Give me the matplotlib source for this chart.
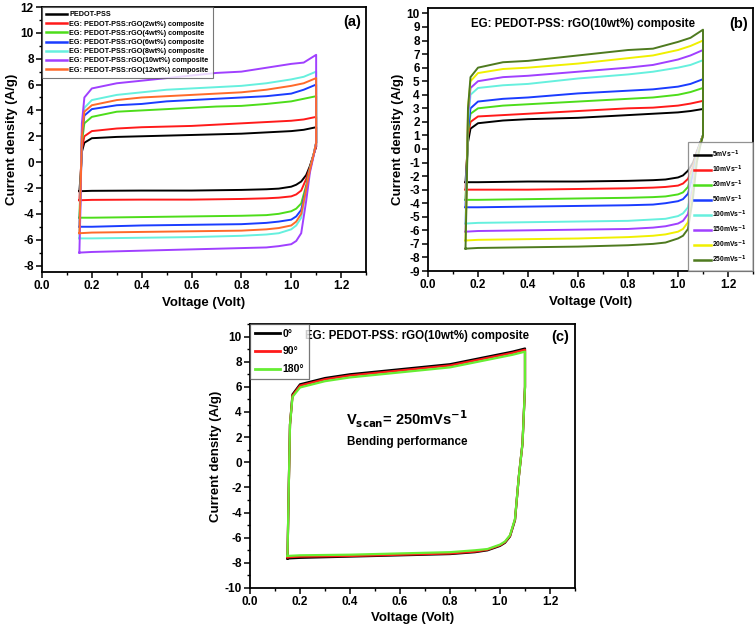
import matplotlib
matplotlib.use("Agg")
from matplotlib import pyplot as plt
from matplotlib.ticker import MultipleLocator

plt.rcParams['font.family'] = ['Liberation Sans', 'DejaVu Sans']
plt.rcParams['font.weight'] = 'bold'
plt.rcParams['axes.labelweight'] = 'bold'
plt.rcParams['mathtext.default'] = 'bf'
plt.rcParams['axes.unicode_minus'] = False

# voltage points of the anodic (forward) and cathodic (reverse) sweeps
V_UP = [0.15, 0.155, 0.16, 0.17, 0.2, 0.3, 0.4, 0.5, 0.6, 0.7, 0.8, 0.9, 1.0, 1.05, 1.1]
V_DN = [1.1, 1.1, 1.09, 1.075, 1.06, 1.04, 1.02, 1.0, 0.95, 0.9, 0.8, 0.6, 0.4, 0.2, 0.15]

# panel (a): rGO content
A_LABELS = ['PEDOT-PSS',
            'EG: PEDOT-PSS:rGO(2wt%) composite',
            'EG: PEDOT-PSS:rGO(4wt%) composite',
            'EG: PEDOT-PSS:rGO(6wt%) composite',
            'EG: PEDOT-PSS:rGO(8wt%) composite',
            'EG: PEDOT-PSS:rGO(10wt%) composite',
            'EG: PEDOT-PSS:rGO(12wt%) composite']
A_COLORS = ['#000000', '#ff1a1a', '#4ddd1a', '#1a3cff', '#66f0de', '#a040ff', '#ff6a2a']
A_UP = [
    [-2.25, -1.0, 0.8, 1.5, 1.85, 1.95, 2.0, 2.05, 2.1, 2.15, 2.2, 2.3, 2.4, 2.5, 2.7],
    [-2.95, -1.0, 1.0, 2.0, 2.4, 2.6, 2.7, 2.75, 2.8, 2.9, 3.0, 3.1, 3.2, 3.3, 3.5],
    [-4.3, -1.5, 1.5, 3.0, 3.5, 3.9, 4.0, 4.1, 4.2, 4.3, 4.35, 4.5, 4.7, 4.9, 5.1],
    [-5.0, -2.0, 2.0, 3.6, 4.1, 4.4, 4.5, 4.7, 4.8, 4.9, 5.0, 5.1, 5.3, 5.6, 6.0],
    [-5.9, -2.0, 2.5, 4.2, 4.8, 5.2, 5.4, 5.6, 5.7, 5.8, 5.9, 6.1, 6.4, 6.6, 7.0],
    [-7.0, -3.0, 3.0, 5.0, 5.7, 6.1, 6.3, 6.5, 6.7, 6.9, 7.0, 7.3, 7.6, 7.7, 8.3],
    [-5.5, -2.0, 2.0, 3.9, 4.4, 4.8, 5.0, 5.1, 5.2, 5.3, 5.4, 5.6, 5.9, 6.1, 6.5],
]
A_DN = [
    [2.7, 1.2, 0.6, -0.3, -1.0, -1.5, -1.75, -1.9, -2.05, -2.1, -2.15, -2.2, -2.2, -2.22, -2.25],
    [3.5, 1.2, 0.6, -0.4, -1.3, -2.2, -2.5, -2.65, -2.75, -2.8, -2.85, -2.9, -2.9, -2.92, -2.95],
    [5.1, 1.5, 0.6, -0.5, -1.8, -3.2, -3.6, -3.8, -4.0, -4.1, -4.15, -4.2, -4.25, -4.3, -4.3],
    [6.0, 1.5, 0.6, -0.6, -2.0, -3.7, -4.2, -4.45, -4.6, -4.7, -4.8, -4.85, -4.9, -5.0, -5.0],
    [7.0, 1.5, 0.6, -0.6, -2.2, -4.3, -4.9, -5.2, -5.5, -5.6, -5.7, -5.8, -5.85, -5.9, -5.9],
    [8.3, 1.5, 0.5, -0.8, -3.0, -5.5, -6.1, -6.35, -6.5, -6.6, -6.65, -6.75, -6.85, -6.95, -7.0],
    [6.5, 1.5, 0.6, -0.6, -2.1, -4.0, -4.6, -4.9, -5.1, -5.2, -5.3, -5.35, -5.4, -5.45, -5.5],
]

# panel (b): scan rate
B_LABELS = ['5mVs$^{-1}$', '10mVs$^{-1}$', '20mVs$^{-1}$', '50mVs$^{-1}$',
            '100mVs$^{-1}$', '150mVs$^{-1}$', '200mVs$^{-1}$', '250mVs$^{-1}$']
B_COLORS = ['#000000', '#ff1a1a', '#4ddd1a', '#1a3cff', '#66f0de', '#a040ff', '#f0f000', '#4e7a1f']
B_UP = [
    [-2.45, -1.0, 0.5, 1.5, 1.9, 2.1, 2.2, 2.25, 2.3, 2.4, 2.5, 2.6, 2.7, 2.8, 2.95],
    [-3.0, -1.0, 1.0, 2.0, 2.4, 2.5, 2.6, 2.7, 2.8, 2.9, 3.0, 3.05, 3.2, 3.35, 3.55],
    [-3.75, -1.2, 1.2, 2.6, 3.0, 3.2, 3.3, 3.4, 3.5, 3.6, 3.7, 3.8, 4.0, 4.2, 4.5],
    [-4.3, -1.5, 1.5, 3.0, 3.5, 3.7, 3.8, 3.95, 4.1, 4.2, 4.3, 4.4, 4.6, 4.8, 5.15],
    [-5.5, -2.0, 2.0, 4.0, 4.5, 4.7, 4.8, 5.0, 5.2, 5.35, 5.5, 5.7, 6.0, 6.2, 6.55],
    [-6.1, -2.0, 2.5, 4.5, 5.0, 5.3, 5.4, 5.55, 5.7, 5.85, 6.0, 6.2, 6.6, 6.9, 7.3],
    [-6.75, -2.5, 3.0, 5.0, 5.6, 5.9, 6.0, 6.15, 6.3, 6.5, 6.7, 6.9, 7.3, 7.6, 8.0],
    [-7.35, -3.0, 3.0, 5.3, 6.0, 6.4, 6.5, 6.7, 6.9, 7.1, 7.3, 7.4, 7.9, 8.2, 8.8],
]
B_DN = [
    [2.95, 1.0, 0.5, -0.2, -1.0, -1.6, -1.95, -2.1, -2.25, -2.3, -2.35, -2.4, -2.4, -2.45, -2.45],
    [3.55, 1.0, 0.5, -0.3, -1.3, -2.2, -2.55, -2.7, -2.8, -2.85, -2.9, -2.95, -3.0, -3.0, -3.0],
    [4.5, 1.0, 0.5, -0.4, -1.6, -2.8, -3.2, -3.35, -3.5, -3.55, -3.6, -3.65, -3.7, -3.75, -3.75],
    [5.15, 1.0, 0.5, -0.5, -1.9, -3.3, -3.7, -3.85, -4.0, -4.1, -4.15, -4.2, -4.25, -4.3, -4.3],
    [6.55, 1.0, 0.4, -0.6, -2.5, -4.3, -4.75, -4.95, -5.15, -5.2, -5.3, -5.35, -5.4, -5.45, -5.5],
    [7.3, 1.0, 0.4, -0.7, -2.8, -4.8, -5.3, -5.5, -5.7, -5.8, -5.9, -5.95, -6.0, -6.05, -6.1],
    [8.0, 1.0, 0.4, -0.8, -3.2, -5.4, -5.9, -6.1, -6.3, -6.4, -6.5, -6.6, -6.65, -6.7, -6.75],
    [8.8, 1.0, 0.3, -1.0, -3.6, -5.9, -6.4, -6.6, -6.9, -7.0, -7.1, -7.2, -7.25, -7.3, -7.35],
]

# panel (c): bending angle
C_LABELS = ['0°', '90°', '180°']
C_COLORS = ['#000000', '#ff1a1a', '#66ee33']
C_UP = [
    [-7.65, -2.0, 3.0, 5.4, 6.2, 6.7, 7.0, 7.2, 7.4, 7.6, 7.8, 8.2, 8.6, 8.8, 9.05],
    [-7.55, -2.0, 3.0, 5.3, 6.1, 6.6, 6.9, 7.1, 7.3, 7.5, 7.7, 8.1, 8.5, 8.7, 8.95],
    [-7.45, -2.0, 3.0, 5.2, 5.95, 6.45, 6.75, 6.95, 7.15, 7.35, 7.55, 7.95, 8.35, 8.55, 8.8],
]
C_DN = [
    [9.05, 6.0, 1.5, -1.2, -4.6, -5.9, -6.4, -6.65, -7.0, -7.15, -7.3, -7.4, -7.5, -7.6, -7.65],
    [8.95, 6.0, 1.5, -1.2, -4.55, -5.85, -6.35, -6.6, -6.95, -7.1, -7.25, -7.35, -7.45, -7.5, -7.55],
    [8.8, 6.0, 1.5, -1.2, -4.5, -5.8, -6.3, -6.55, -6.9, -7.0, -7.15, -7.25, -7.35, -7.4, -7.45],
]

W, H = 756, 632
fig = plt.figure(figsize=(W / 100, H / 100), dpi=100)


def px_axes(x0, y0, x1, y1):
    # axes box given in pixel coords of the picture (top-left origin)
    return fig.add_axes([x0 / W, 1 - y1 / H, (x1 - x0) / W, (y1 - y0) / H])


def style(ax, ylim, ymaj, ymin):
    ax.set_xlim(0.0, 1.3)
    ax.set_ylim(*ylim)
    ax.xaxis.set_major_locator(MultipleLocator(0.2))
    ax.xaxis.set_minor_locator(MultipleLocator(0.1))
    ax.yaxis.set_major_locator(MultipleLocator(ymaj))
    if ymin:
        ax.yaxis.set_minor_locator(MultipleLocator(ymin))
    ax.tick_params(which='major', direction='out', length=4, width=1.1, labelsize=8.5, pad=2)
    ax.tick_params(which='minor', direction='out', length=2.2, width=1.0)
    for lab in ax.get_xticklabels() + ax.get_yticklabels():
        lab.set_fontweight('bold')
    for sp in ax.spines.values():
        sp.set_linewidth(1.3)
    ax.set_xlabel('Voltage (Volt)', fontsize=9.5, fontweight='bold', labelpad=3)
    ax.set_ylabel('Current density (A/g)', fontsize=9.5, fontweight='bold', labelpad=2)


def draw(ax, ups, dns, colors, labels, lw=1.4):
    for up, dn, c, lab in zip(ups, dns, colors, labels):
        ax.plot(V_UP + V_DN, up + dn, color=c, lw=lw, label=lab)


# (a)
ax1 = px_axes(42, 7, 366, 272)
draw(ax1, A_UP, A_DN, A_COLORS, A_LABELS)
style(ax1, (-8.5, 12), 2, 1)
ax1.text(0.957, 0.943, '(a)', transform=ax1.transAxes, ha='center', va='center',
         fontsize=10.5, fontweight='bold')
leg = ax1.legend(loc='upper left', frameon=True, fancybox=False,
                 borderaxespad=0, handlelength=2.8, handletextpad=0.35,
                 labelspacing=0.3, borderpad=0.6, prop={'weight': 'bold', 'size': 5.2})
leg.get_frame().set_edgecolor('#555555')
leg.get_frame().set_linewidth(0.8)
for l in leg.get_lines():
    l.set_linewidth(1.8)

# (b)
ax2 = px_axes(428, 8, 753, 271)
draw(ax2, B_UP, B_DN, B_COLORS, B_LABELS)
style(ax2, (-9, 10.4), 1, None)
ax2.text(0.957, 0.94, '(b)', transform=ax2.transAxes, ha='center', va='center',
         fontsize=10.5, fontweight='bold')
ax2.text(0.476, 0.94, 'EG: PEDOT-PSS: rGO(10wt%) composite', transform=ax2.transAxes,
         ha='center', va='center', fontsize=8.3, fontweight='bold')
leg = ax2.legend(loc='lower right', frameon=True, fancybox=False, borderaxespad=0,
                 handlelength=2.4, handletextpad=0.25, labelspacing=0.55, borderpad=0.9,
                 prop={'weight': 'bold', 'size': 4.9})
leg.get_frame().set_edgecolor('#777777')
leg.get_frame().set_linewidth(0.9)
for l in leg.get_lines():
    l.set_linewidth(1.8)

# (c)
ax3 = px_axes(250, 324, 575, 588)
draw(ax3, C_UP, C_DN, C_COLORS, C_LABELS, lw=1.6)
style(ax3, (-10, 11), 2, 1)
ax3.text(0.954, 0.951, '(c)', transform=ax3.transAxes, ha='center', va='center',
         fontsize=10.5, fontweight='bold')
ax3.text(0.515, 0.955, 'EG: PEDOT-PSS: rGO(10wt%) composite', transform=ax3.transAxes,
         ha='center', va='center', fontsize=8.3, fontweight='bold')
ax3.text(0.483, 0.64, 'V$_{scan}$= 250mVs$^{-1}$', transform=ax3.transAxes,
         ha='center', va='center', fontsize=10.5, fontweight='bold')
ax3.text(0.483, 0.553, 'Bending performance', transform=ax3.transAxes,
         ha='center', va='center', fontsize=8.4, fontweight='bold')
leg = ax3.legend(loc='upper left', frameon=True, fancybox=False, borderaxespad=0,
                 handlelength=2.4, handletextpad=0.3, labelspacing=0.75, borderpad=0.45,
                 prop={'weight': 'bold', 'size': 7.5})
leg.get_frame().set_edgecolor('#555555')
leg.get_frame().set_linewidth(0.9)
for l in leg.get_lines():
    l.set_linewidth(2.0)

fig.savefig('out.png', dpi=100)
